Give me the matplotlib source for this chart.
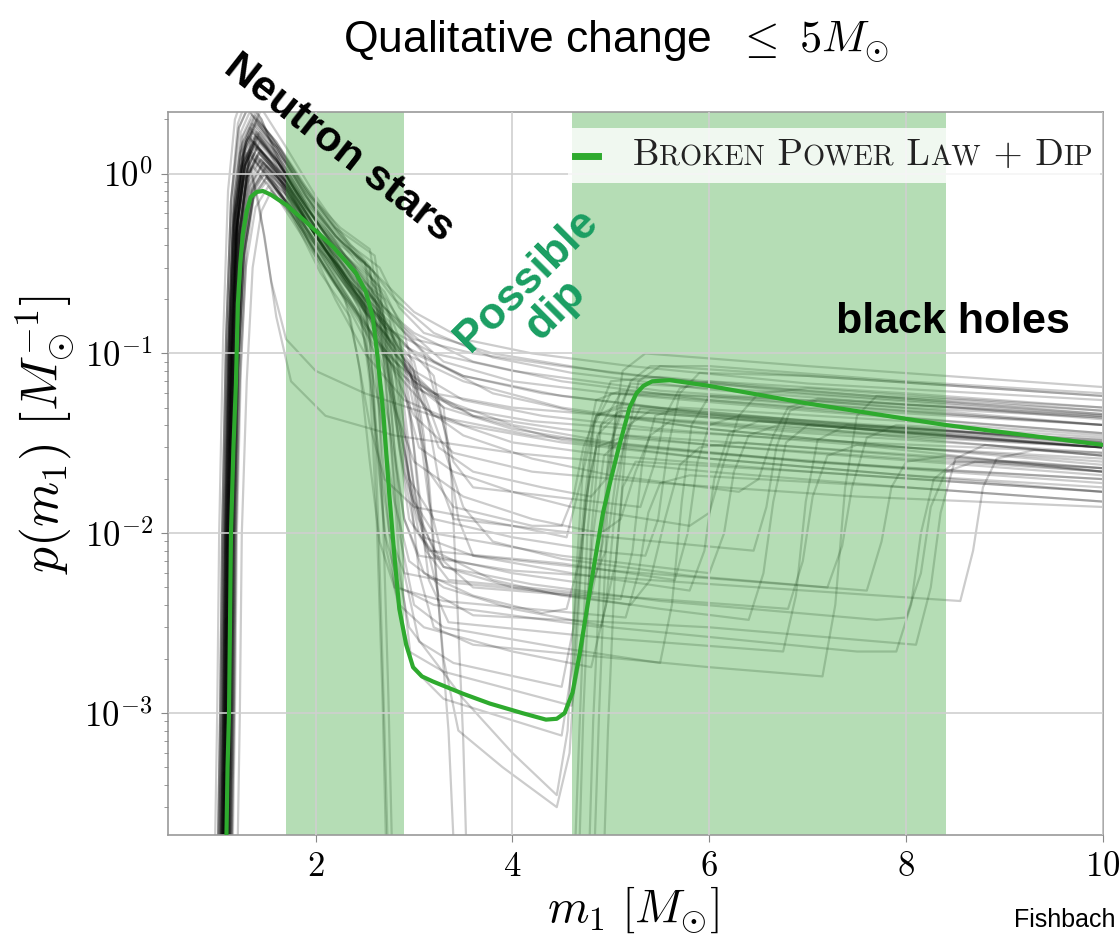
import math
import matplotlib
matplotlib.use("Agg")
import matplotlib.pyplot as plt
from matplotlib.ticker import LogLocator, FixedLocator, FuncFormatter, NullFormatter
from matplotlib.offsetbox import AnchoredOffsetbox, HPacker, TextArea, DrawingArea
from matplotlib.lines import Line2D

plt.rcParams['mathtext.fontset'] = 'cm'
plt.rcParams['font.family'] = ['Liberation Sans', 'DejaVu Sans']

# --- data ----------------------------------------------------------------
# best fit "broken power law + dip" curve (m1, p(m1))
FIT_M = [1.085, 1.105, 1.12, 1.14, 1.165, 1.19, 1.21, 1.235, 1.26, 1.30, 1.34, 1.40,
         1.465, 1.55, 1.70, 1.90, 2.18, 2.41, 2.51, 2.58, 2.63, 2.69, 2.75, 2.80,
         2.85, 2.92, 2.99, 3.08, 3.19, 3.5, 3.77, 4.1, 4.34, 4.45, 4.53, 4.61,
         4.68, 4.75, 4.84, 4.92, 5.0, 5.08, 5.19, 5.26, 5.33, 5.42, 5.6, 6.0,
         6.97, 8.4, 10.0]
FIT_P = [1e-4, 5e-4, 1e-3, 0.01, 0.03, 0.068, 0.19, 0.32, 0.46, 0.62, 0.74, 0.79,
         0.80, 0.76, 0.67, 0.54, 0.39, 0.28, 0.22, 0.16, 0.095, 0.045, 0.016, 0.0075,
         0.0038, 0.0024, 0.0018, 0.0016, 0.0015, 0.00128, 0.00113, 0.001, 0.00092, 0.00093, 0.001, 0.0013,
         0.0021, 0.0036, 0.0072, 0.013, 0.02, 0.03, 0.05, 0.06, 0.066, 0.07, 0.071, 0.066,
         0.053, 0.040, 0.031]

# posterior draws, no clear dip
SMOOTH_DRAWS = [
    [(1.03, 1e-4), (1.06, 1e-3), (1.08, 1e-2), (1.12, 0.12), (1.17, 0.6), (1.24, 1.4), (1.33, 1.8), (1.5, 1.4), (1.8, 0.7), (2.1, 0.4), (2.5, 0.22), (3.0, 0.13), (3.6, 0.09), (4.5, 0.07), (6, 0.055), (8, 0.044), (10, 0.036)],
    [(1.08, 1e-4), (1.11, 1e-3), (1.13, 1e-2), (1.17, 0.1), (1.22, 0.45), (1.3, 0.95), (1.45, 1.2), (1.65, 0.9), (1.9, 0.5), (2.2, 0.28), (2.5, 0.17), (2.9, 0.1), (3.5, 0.07), (4.5, 0.05), (6, 0.038), (8, 0.03), (10, 0.024)],
    [(1.0, 1e-4), (1.03, 1e-3), (1.05, 1e-2), (1.09, 0.12), (1.14, 0.7), (1.21, 1.9), (1.3, 2.6), (1.45, 2.0), (1.7, 0.9), (2.0, 0.45), (2.3, 0.25), (2.7, 0.14), (3.2, 0.1), (4.0, 0.08), (5.5, 0.062), (8, 0.05), (10, 0.044)],
    [(1.12, 1e-4), (1.15, 1e-3), (1.17, 1e-2), (1.21, 0.08), (1.27, 0.35), (1.36, 0.72), (1.5, 0.9), (1.7, 0.7), (2.0, 0.4), (2.3, 0.22), (2.6, 0.12), (3.0, 0.07), (3.6, 0.045), (4.5, 0.033), (6, 0.026), (8, 0.021), (10, 0.018)],
    [(1.05, 1e-4), (1.08, 1e-3), (1.10, 1e-2), (1.14, 0.1), (1.19, 0.5), (1.27, 1.1), (1.38, 1.4), (1.6, 1.0), (1.9, 0.45), (2.2, 0.2), (2.5, 0.1), (2.9, 0.055), (3.5, 0.04), (4.5, 0.032), (6, 0.026), (8, 0.021), (10, 0.017)],
    [(1.1, 1e-4), (1.13, 1e-3), (1.15, 1e-2), (1.19, 0.1), (1.24, 0.5), (1.32, 1.2), (1.42, 1.6), (1.65, 1.1), (2.0, 0.55), (2.4, 0.3), (2.7, 0.18), (3.0, 0.12), (3.6, 0.1), (4.5, 0.085), (6, 0.068), (8, 0.056), (10, 0.048)],
    [(1.06, 1e-4), (1.09, 1e-3), (1.11, 1e-2), (1.15, 0.11), (1.2, 0.6), (1.29, 1.5), (1.4, 2.0), (1.6, 1.5), (1.9, 0.8), (2.3, 0.42), (2.6, 0.25), (2.9, 0.14), (3.3, 0.09), (4.0, 0.07), (5, 0.06), (7, 0.048), (10, 0.036)],
    [(1.15, 1e-4), (1.18, 1e-3), (1.2, 1e-2), (1.24, 0.08), (1.3, 0.38), (1.38, 0.8), (1.48, 1.0), (1.7, 0.7), (2.0, 0.42), (2.4, 0.25), (2.8, 0.15), (3.2, 0.09), (3.8, 0.06), (4.6, 0.048), (6, 0.038), (8, 0.03), (10, 0.025)],
    [(1.02, 1e-4), (1.05, 1e-3), (1.07, 1e-2), (1.11, 0.1), (1.16, 0.5), (1.24, 1.05), (1.33, 1.3), (1.55, 0.9), (1.85, 0.5), (2.2, 0.3), (2.5, 0.18), (2.8, 0.08), (3.2, 0.045), (4.0, 0.032), (5, 0.027), (7, 0.022), (10, 0.017)],
    [(1.09, 1e-4), (1.12, 1e-3), (1.14, 1e-2), (1.18, 0.11), (1.23, 0.6), (1.31, 1.3), (1.4, 1.7), (1.6, 1.2), (1.9, 0.65), (2.2, 0.38), (2.55, 0.22), (2.8, 0.1), (3.2, 0.06), (4.0, 0.05), (5, 0.045), (7, 0.037), (10, 0.03)],
    [(1.04, 1e-4), (1.07, 1e-3), (1.09, 1e-2), (1.13, 0.1), (1.18, 0.45), (1.26, 0.9), (1.36, 1.1), (1.6, 0.75), (1.95, 0.38), (2.3, 0.2), (2.6, 0.11), (3.0, 0.065), (3.6, 0.045), (4.5, 0.038), (6, 0.031), (8, 0.026), (10, 0.022)],
    [(1.13, 1e-4), (1.16, 1e-3), (1.18, 1e-2), (1.22, 0.12), (1.27, 0.7), (1.35, 1.7), (1.45, 2.3), (1.7, 1.4), (2.0, 0.75), (2.35, 0.4), (2.65, 0.3), (2.85, 0.18), (3.1, 0.13), (3.8, 0.1), (5, 0.078), (7, 0.06), (10, 0.046)],
    [(1.07, 1e-4), (1.1, 1e-3), (1.12, 1e-2), (1.15, 0.1), (1.2, 0.6), (1.25, 1.1), (1.3, 1.3), (1.42, 0.7), (1.55, 0.25), (1.7, 0.12), (2.0, 0.08), (2.5, 0.06), (3.2, 0.045), (4.2, 0.035), (6, 0.028), (8, 0.023), (10, 0.02)],
    [(1.1, 1e-4), (1.13, 1e-3), (1.15, 1e-2), (1.18, 0.09), (1.23, 0.5), (1.29, 0.85), (1.35, 1.0), (1.48, 0.45), (1.6, 0.16), (1.75, 0.07), (2.1, 0.045), (2.8, 0.035), (4, 0.028), (6, 0.022), (8, 0.018), (10, 0.015)],
    [(0.97, 1e-4), (1.0, 1e-3), (1.02, 1e-2), (1.06, 0.12), (1.11, 0.8), (1.18, 2.0), (1.27, 2.8), (1.45, 2.0), (1.75, 0.85), (2.1, 0.38), (2.5, 0.19), (2.9, 0.11), (3.5, 0.075), (4.5, 0.058), (6, 0.046), (8, 0.037), (10, 0.031)],
    [(1.2, 1e-4), (1.23, 1e-3), (1.25, 1e-2), (1.3, 0.07), (1.36, 0.3), (1.45, 0.62), (1.55, 0.8), (1.8, 0.55), (2.1, 0.3), (2.4, 0.17), (2.8, 0.09), (3.3, 0.055), (4, 0.04), (5, 0.032), (7, 0.025), (10, 0.019)],
    [(1.01, 1e-4), (1.04, 1e-3), (1.06, 1e-2), (1.1, 0.11), (1.15, 0.6), (1.23, 1.3), (1.32, 1.6), (1.55, 1.15), (1.85, 0.6), (2.2, 0.32), (2.6, 0.17), (3.0, 0.1), (3.5, 0.075), (4.3, 0.06), (5.5, 0.05), (7.5, 0.04), (10, 0.033)],
    [(1.08, 1e-4), (1.11, 1e-3), (1.13, 1e-2), (1.17, 0.12), (1.22, 0.7), (1.3, 1.6), (1.38, 2.1), (1.6, 1.5), (1.9, 0.85), (2.2, 0.5), (2.5, 0.33), (2.8, 0.2), (3.2, 0.13), (3.8, 0.095), (4.6, 0.078), (6, 0.063), (8, 0.052), (10, 0.045)],
    [(1.13, 1e-4), (1.16, 1e-3), (1.18, 1e-2), (1.22, 0.09), (1.28, 0.42), (1.37, 0.9), (1.47, 1.15), (1.7, 0.8), (2.0, 0.45), (2.3, 0.26), (2.6, 0.14), (2.9, 0.075), (3.3, 0.05), (4, 0.038), (5, 0.031), (7, 0.025), (10, 0.02)],
    [(1.05, 1e-4), (1.08, 1e-3), (1.1, 1e-2), (1.14, 0.11), (1.19, 0.6), (1.27, 1.35), (1.37, 1.75), (1.6, 1.25), (1.9, 0.62), (2.25, 0.3), (2.6, 0.15), (3.0, 0.08), (3.5, 0.055), (4.3, 0.045), (5.5, 0.038), (7.5, 0.031), (10, 0.026)],
    [(1.09, 1e-4), (1.12, 1e-3), (1.14, 1e-2), (1.18, 0.1), (1.23, 0.5), (1.31, 1.1), (1.41, 1.4), (1.65, 1.0), (1.95, 0.55), (2.3, 0.3), (2.6, 0.2), (2.8, 0.12), (3.0, 0.07), (3.4, 0.05), (4.2, 0.042), (5.5, 0.037), (7.5, 0.032), (10, 0.028)],
    [(1.03, 1e-4), (1.06, 1e-3), (1.08, 1e-2), (1.12, 0.1), (1.17, 0.5), (1.25, 1.0), (1.34, 1.25), (1.55, 0.9), (1.85, 0.48), (2.2, 0.25), (2.5, 0.15), (2.75, 0.09), (3.0, 0.045), (3.4, 0.028), (4.2, 0.022), (5.5, 0.019), (7.5, 0.016), (10, 0.014)],
    [(1.07, 1e-4), (1.1, 1e-3), (1.12, 1e-2), (1.16, 0.12), (1.21, 0.65), (1.28, 1.5), (1.36, 1.9), (1.6, 1.4), (1.9, 0.8), (2.25, 0.45), (2.6, 0.28), (3.0, 0.17), (3.5, 0.12), (4.2, 0.1), (5.2, 0.085), (7, 0.068), (10, 0.055)],
]

# posterior draws with a dip between the neutron star and black hole parts
DIP_DRAWS = [
    [(1.06, 1e-4), (1.09, 1e-3), (1.11, 1e-2), (1.15, 0.1), (1.2, 0.5), (1.28, 1.1), (1.38, 1.5), (1.6, 1.0), (1.9, 0.55), (2.2, 0.35), (2.45, 0.25), (2.55, 0.12), (2.63, 0.03), (2.72, 0.008), (2.85, 0.004), (3.1, 0.003), (4.0, 0.0022), (4.8, 0.0018), (4.95, 0.004), (5.05, 0.015), (5.15, 0.035), (5.3, 0.05), (6, 0.046), (8, 0.036), (10, 0.03)],
    [(1.1, 1e-4), (1.13, 1e-3), (1.15, 1e-2), (1.19, 0.09), (1.25, 0.4), (1.33, 0.85), (1.45, 1.1), (1.7, 0.8), (2.0, 0.45), (2.4, 0.22), (2.7, 0.15), (2.8, 0.08), (2.9, 0.03), (3.0, 0.015), (3.2, 0.01), (4.5, 0.0075), (6.0, 0.006), (6.15, 0.01), (6.25, 0.022), (6.4, 0.035), (6.7, 0.04), (8, 0.034), (10, 0.027)],
    [(1.04, 1e-4), (1.07, 1e-3), (1.09, 1e-2), (1.13, 0.12), (1.18, 0.65), (1.26, 1.5), (1.35, 1.9), (1.6, 1.3), (1.9, 0.7), (2.25, 0.42), (2.55, 0.3), (2.65, 0.15), (2.75, 0.04), (2.85, 0.01), (3.0, 0.004), (3.3, 0.003), (4.5, 0.0023), (5.5, 0.0019), (5.62, 0.004), (5.72, 0.015), (5.82, 0.04), (6.0, 0.058), (7, 0.055), (8.5, 0.047), (10, 0.04)],
    [(1.12, 1e-4), (1.15, 1e-3), (1.17, 1e-2), (1.21, 0.08), (1.27, 0.35), (1.37, 0.75), (1.5, 0.95), (1.75, 0.65), (2.05, 0.33), (2.3, 0.2), (2.42, 0.1), (2.55, 0.04), (2.7, 0.02), (3.0, 0.014), (4.0, 0.011), (4.55, 0.0095), (4.7, 0.02), (4.85, 0.045), (5.1, 0.052), (7, 0.042), (10, 0.032)],
    [(1.07, 1e-4), (1.1, 1e-3), (1.12, 1e-2), (1.16, 0.1), (1.21, 0.55), (1.29, 1.2), (1.4, 1.6), (1.65, 1.1), (2.0, 0.5), (2.4, 0.22), (2.8, 0.11), (2.9, 0.05), (3.0, 0.018), (3.12, 0.008), (3.35, 0.0055), (5, 0.0045), (6.8, 0.0038), (6.95, 0.007), (7.05, 0.016), (7.2, 0.027), (7.5, 0.031), (8.5, 0.027), (10, 0.022)],
    [(1.0, 1e-4), (1.03, 1e-3), (1.05, 1e-2), (1.09, 0.12), (1.14, 0.7), (1.22, 1.8), (1.32, 2.4), (1.55, 1.6), (1.85, 0.9), (2.2, 0.5), (2.6, 0.35), (2.7, 0.15), (2.8, 0.03), (2.9, 0.006), (3.05, 0.0025), (3.4, 0.0019), (4.5, 0.0014), (4.62, 0.003), (4.72, 0.013), (4.82, 0.04), (5.0, 0.07), (5.5, 0.074), (7, 0.062), (10, 0.046)],
    [(1.09, 1e-4), (1.12, 1e-3), (1.14, 1e-2), (1.18, 0.09), (1.24, 0.45), (1.32, 1.0), (1.42, 1.3), (1.7, 0.9), (2.0, 0.5), (2.4, 0.25), (2.8, 0.13), (3.2, 0.075), (3.32, 0.035), (3.45, 0.012), (3.6, 0.0075), (5, 0.0062), (7.6, 0.0048), (7.75, 0.009), (7.85, 0.018), (8.0, 0.025), (8.4, 0.027), (10, 0.022)],
    [(1.05, 1e-4), (1.08, 1e-3), (1.1, 1e-2), (1.14, 0.11), (1.19, 0.6), (1.27, 1.35), (1.36, 1.7), (1.6, 1.2), (1.9, 0.65), (2.15, 0.42), (2.4, 0.3), (2.5, 0.15), (2.6, 0.04), (2.7, 0.01), (2.85, 0.005), (3.2, 0.004), (4.9, 0.003), (5.05, 0.007), (5.15, 0.03), (5.28, 0.07), (5.5, 0.085), (7, 0.075), (10, 0.058)],
    [(1.11, 1e-4), (1.14, 1e-3), (1.16, 1e-2), (1.2, 0.085), (1.26, 0.4), (1.35, 0.82), (1.47, 1.05), (1.75, 0.7), (2.1, 0.32), (2.5, 0.14), (2.9, 0.07), (3.0, 0.03), (3.1, 0.01), (3.25, 0.0045), (3.6, 0.0035), (6, 0.003), (8.1, 0.0024), (8.25, 0.005), (8.35, 0.013), (8.5, 0.026), (8.8, 0.031), (10, 0.027)],
    [(1.03, 1e-4), (1.06, 1e-3), (1.08, 1e-2), (1.12, 0.12), (1.17, 0.7), (1.25, 1.6), (1.35, 2.1), (1.6, 1.4), (1.9, 0.75), (2.3, 0.35), (2.65, 0.22), (2.75, 0.1), (2.85, 0.03), (2.95, 0.012), (3.15, 0.008), (4.5, 0.0068), (5.65, 0.0055), (5.78, 0.01), (5.88, 0.025), (6.0, 0.04), (6.3, 0.045), (8, 0.039), (10, 0.032)],
    [(1.08, 1e-4), (1.11, 1e-3), (1.13, 1e-2), (1.17, 0.09), (1.22, 0.45), (1.3, 0.95), (1.4, 1.25), (1.65, 0.85), (2.0, 0.4), (2.3, 0.24), (2.5, 0.18), (2.6, 0.09), (2.7, 0.02), (2.8, 0.005), (2.95, 0.0022), (3.3, 0.0017), (4.6, 0.0011), (4.72, 0.0025), (4.82, 0.01), (4.93, 0.027), (5.15, 0.035), (7, 0.03), (10, 0.023)],
    [(1.06, 1e-4), (1.09, 1e-3), (1.11, 1e-2), (1.15, 0.1), (1.2, 0.5), (1.28, 1.1), (1.38, 1.45), (1.65, 1.0), (2.0, 0.5), (2.4, 0.24), (2.75, 0.13), (3.0, 0.09), (3.12, 0.05), (3.25, 0.02), (3.4, 0.012), (5, 0.0095), (6.45, 0.008), (6.58, 0.014), (6.68, 0.03), (6.82, 0.048), (7.1, 0.055), (8.5, 0.05), (10, 0.044)],
    [(1.14, 1e-4), (1.17, 1e-3), (1.19, 1e-2), (1.23, 0.07), (1.29, 0.3), (1.39, 0.65), (1.52, 0.85), (1.75, 0.6), (2.05, 0.28), (2.35, 0.16), (2.45, 0.08), (2.55, 0.025), (2.65, 0.009), (2.8, 0.005), (3.3, 0.0042), (5.15, 0.0034), (5.28, 0.006), (5.38, 0.013), (5.5, 0.019), (5.8, 0.021), (8, 0.018), (10, 0.015)],
    [(1.02, 1e-4), (1.05, 1e-3), (1.07, 1e-2), (1.11, 0.11), (1.16, 0.55), (1.24, 1.2), (1.34, 1.55), (1.6, 1.05), (1.95, 0.5), (2.35, 0.25), (2.75, 0.15), (2.85, 0.07), (2.95, 0.02), (3.05, 0.006), (3.2, 0.003), (3.6, 0.0024), (6, 0.0018), (7.15, 0.0016), (7.28, 0.004), (7.38, 0.018), (7.5, 0.045), (7.7, 0.058), (8.6, 0.055), (10, 0.048)],
    [(1.1, 1e-4), (1.13, 1e-3), (1.15, 1e-2), (1.19, 0.09), (1.25, 0.45), (1.33, 1.0), (1.44, 1.35), (1.7, 0.95), (2.05, 0.5), (2.5, 0.25), (2.85, 0.14), (3.1, 0.1), (3.25, 0.05), (3.4, 0.025), (3.6, 0.018), (5.3, 0.014), (5.45, 0.025), (5.55, 0.045), (5.7, 0.064), (6.0, 0.07), (8, 0.06), (10, 0.05)],
    [(1.07, 1e-4), (1.1, 1e-3), (1.12, 1e-2), (1.16, 0.11), (1.21, 0.65), (1.29, 1.5), (1.4, 1.9), (1.65, 1.35), (1.95, 0.75), (2.25, 0.5), (2.55, 0.38), (2.65, 0.18), (2.75, 0.04), (2.85, 0.007), (2.98, 0.0018), (3.3, 0.0012), (4.5, 0.00075), (4.62, 0.002), (4.72, 0.01), (4.83, 0.04), (5.0, 0.06), (6, 0.058), (8, 0.048), (10, 0.04)],
    [(1.05, 1e-4), (1.08, 1e-3), (1.1, 1e-2), (1.14, 0.1), (1.19, 0.45), (1.27, 0.95), (1.37, 1.2), (1.6, 0.85), (1.95, 0.4), (2.2, 0.24), (2.45, 0.16), (2.55, 0.08), (2.65, 0.025), (2.75, 0.01), (2.9, 0.006), (3.4, 0.0053), (4.8, 0.0045), (4.92, 0.009), (5.02, 0.035), (5.12, 0.08), (5.35, 0.1), (7, 0.085), (10, 0.065)],
    [(1.12, 1e-4), (1.15, 1e-3), (1.17, 1e-2), (1.21, 0.08), (1.27, 0.37), (1.36, 0.8), (1.48, 1.0), (1.75, 0.72), (2.1, 0.38), (2.5, 0.2), (2.85, 0.12), (2.95, 0.055), (3.05, 0.015), (3.15, 0.0055), (3.35, 0.0032), (5, 0.0026), (6.75, 0.0022), (6.88, 0.0045), (6.98, 0.015), (7.1, 0.033), (7.4, 0.04), (8.5, 0.037), (10, 0.031)],
    [(1.04, 1e-4), (1.07, 1e-3), (1.09, 1e-2), (1.13, 0.11), (1.18, 0.6), (1.26, 1.25), (1.36, 1.6), (1.6, 1.15), (1.95, 0.6), (2.3, 0.35), (2.6, 0.25), (2.7, 0.12), (2.8, 0.03), (2.9, 0.012), (3.05, 0.0075), (4, 0.0062), (6.5, 0.005), (8.55, 0.0042), (8.68, 0.008), (8.78, 0.018), (8.92, 0.026), (9.3, 0.029), (10, 0.027)],
    [(1.09, 1e-4), (1.12, 1e-3), (1.14, 1e-2), (1.18, 0.1), (1.24, 0.5), (1.32, 1.1), (1.43, 1.5), (1.7, 1.0), (2.05, 0.5), (2.5, 0.2), (2.95, 0.09), (3.05, 0.04), (3.15, 0.015), (3.3, 0.007), (3.6, 0.005), (5.1, 0.0043), (5.22, 0.008), (5.32, 0.025), (5.45, 0.045), (5.7, 0.05), (8, 0.042), (10, 0.035)],
    [(1.06, 1e-4), (1.09, 1e-3), (1.11, 1e-2), (1.15, 0.1), (1.2, 0.5), (1.28, 1.1), (1.38, 1.5), (1.6, 1.05), (1.95, 0.5), (2.3, 0.25), (2.6, 0.12), (2.8, 0.05), (3.0, 0.025), (3.5, 0.016), (4.2, 0.012), (4.9, 0.01), (5.1, 0.012), (5.25, 0.022), (5.4, 0.035), (5.6, 0.042), (7, 0.036), (10, 0.028)],
    [(1.1, 1e-4), (1.13, 1e-3), (1.15, 1e-2), (1.19, 0.09), (1.25, 0.42), (1.33, 0.9), (1.44, 1.2), (1.7, 0.85), (2.0, 0.45), (2.4, 0.22), (2.7, 0.1), (2.85, 0.04), (3.0, 0.015), (3.2, 0.008), (3.8, 0.0055), (4.5, 0.0045), (5.2, 0.004), (5.4, 0.0055), (5.55, 0.012), (5.7, 0.024), (5.9, 0.03), (6.3, 0.032), (8, 0.027), (10, 0.022)],
    [(1.04, 1e-4), (1.07, 1e-3), (1.09, 1e-2), (1.13, 0.12), (1.18, 0.7), (1.26, 1.6), (1.35, 2.0), (1.6, 1.4), (1.9, 0.75), (2.3, 0.4), (2.6, 0.28), (2.75, 0.16), (2.9, 0.06), (3.05, 0.03), (3.4, 0.022), (4.0, 0.017), (4.6, 0.014), (5.8, 0.011), (6.0, 0.013), (6.15, 0.025), (6.3, 0.045), (6.5, 0.06), (7, 0.064), (8.5, 0.056), (10, 0.05)],
    [(1.12, 1e-4), (1.15, 1e-3), (1.17, 1e-2), (1.21, 0.08), (1.27, 0.35), (1.37, 0.75), (1.5, 0.95), (1.75, 0.65), (2.05, 0.35), (2.4, 0.18), (2.6, 0.1), (2.75, 0.04), (2.9, 0.012), (3.1, 0.006), (3.6, 0.0045), (4.3, 0.0036), (4.55, 0.0038), (4.68, 0.007), (4.78, 0.02), (4.9, 0.04), (5.1, 0.048), (7, 0.04), (10, 0.03)],
    [(1.08, 1e-4), (1.11, 1e-3), (1.13, 1e-2), (1.17, 0.11), (1.22, 0.6), (1.3, 1.3), (1.4, 1.65), (1.65, 1.15), (2.0, 0.55), (2.35, 0.3), (2.65, 0.18), (2.9, 0.09), (3.1, 0.05), (3.5, 0.035), (4.2, 0.026), (5, 0.021), (6.3, 0.017), (6.5, 0.02), (6.65, 0.035), (6.8, 0.05), (7.1, 0.056), (8.5, 0.05), (10, 0.043)],
    [(1.02, 1e-4), (1.05, 1e-3), (1.07, 1e-2), (1.11, 0.1), (1.16, 0.5), (1.24, 1.1), (1.33, 1.35), (1.55, 0.95), (1.9, 0.45), (2.25, 0.22), (2.5, 0.12), (2.65, 0.05), (2.8, 0.015), (2.95, 0.007), (3.3, 0.005), (4.0, 0.0038), (5.0, 0.003), (7.5, 0.0022), (7.9, 0.0022), (8.05, 0.004), (8.15, 0.01), (8.28, 0.02), (8.5, 0.025), (9.2, 0.025), (10, 0.023)],
    [(1.14, 1e-4), (1.17, 1e-3), (1.19, 1e-2), (1.23, 0.09), (1.29, 0.4), (1.38, 0.85), (1.5, 1.1), (1.75, 0.8), (2.1, 0.42), (2.45, 0.26), (2.7, 0.2), (2.85, 0.12), (3.0, 0.05), (3.15, 0.022), (3.4, 0.014), (4.2, 0.011), (4.5, 0.011), (4.62, 0.016), (4.72, 0.03), (4.85, 0.045), (5.1, 0.05), (7, 0.041), (10, 0.033)],
    [(1.05, 1e-4), (1.08, 1e-3), (1.1, 1e-2), (1.14, 0.11), (1.19, 0.6), (1.27, 1.4), (1.36, 1.8), (1.6, 1.3), (1.9, 0.7), (2.25, 0.38), (2.55, 0.24), (2.75, 0.12), (2.9, 0.04), (3.05, 0.012), (3.3, 0.0065), (4.0, 0.005), (5.5, 0.0038), (6.4, 0.0033), (6.55, 0.006), (6.65, 0.015), (6.78, 0.032), (7.0, 0.04), (8.5, 0.035), (10, 0.03)],
    [(1.09, 1e-4), (1.12, 1e-3), (1.14, 1e-2), (1.18, 0.09), (1.24, 0.45), (1.32, 1.0), (1.42, 1.3), (1.7, 0.9), (2.05, 0.45), (2.45, 0.2), (2.8, 0.1), (3.1, 0.06), (3.3, 0.03), (3.5, 0.014), (3.8, 0.009), (4.5, 0.0072), (5.8, 0.0058), (7.2, 0.005), (7.35, 0.0085), (7.45, 0.018), (7.6, 0.034), (7.9, 0.04), (9, 0.037), (10, 0.034)],
    [(1.07, 1e-4), (1.1, 1e-3), (1.12, 1e-2), (1.16, 0.1), (1.21, 0.55), (1.29, 1.2), (1.39, 1.6), (1.65, 1.1), (2.0, 0.55), (2.35, 0.3), (2.6, 0.2), (2.72, 0.1), (2.85, 0.03), (3.0, 0.011), (3.2, 0.0075), (4.0, 0.006), (4.8, 0.0052), (4.95, 0.008), (5.05, 0.02), (5.18, 0.04), (5.4, 0.048), (7, 0.04), (10, 0.03)],
    [(1.11, 1e-4), (1.14, 1e-3), (1.16, 1e-2), (1.2, 0.085), (1.26, 0.38), (1.35, 0.8), (1.46, 1.0), (1.7, 0.72), (2.0, 0.42), (2.35, 0.22), (2.6, 0.15), (2.75, 0.07), (2.9, 0.022), (3.1, 0.0095), (3.6, 0.0075), (4.6, 0.006), (5.8, 0.0048), (5.95, 0.008), (6.05, 0.02), (6.2, 0.036), (6.5, 0.042), (8, 0.036), (10, 0.03)],
    [(1.03, 1e-4), (1.06, 1e-3), (1.08, 1e-2), (1.12, 0.13), (1.17, 0.8), (1.24, 1.7), (1.33, 2.2), (1.55, 1.6), (1.85, 0.85), (2.2, 0.45), (2.5, 0.32), (2.65, 0.2), (2.8, 0.06), (2.95, 0.02), (3.2, 0.012), (4.0, 0.0095), (5.0, 0.0078), (5.35, 0.0075), (5.48, 0.012), (5.58, 0.03), (5.7, 0.06), (5.9, 0.078), (7, 0.075), (10, 0.058)],
    [(1.06, 1e-4), (1.09, 1e-3), (1.11, 1e-2), (1.15, 0.1), (1.2, 0.5), (1.28, 1.1), (1.37, 1.45), (1.6, 1.0), (1.95, 0.5), (2.3, 0.26), (2.6, 0.16), (2.75, 0.08), (2.9, 0.025), (3.05, 0.01), (3.3, 0.0065), (4.2, 0.0052), (5.5, 0.0042), (7.7, 0.0033), (8.0, 0.0034), (8.15, 0.006), (8.25, 0.014), (8.4, 0.022), (8.7, 0.025), (10, 0.023)],
    [(1.1, 1e-4), (1.13, 1e-3), (1.15, 1e-2), (1.19, 0.11), (1.25, 0.6), (1.33, 1.3), (1.43, 1.7), (1.7, 1.15), (2.0, 0.62), (2.4, 0.33), (2.7, 0.22), (2.9, 0.13), (3.05, 0.06), (3.25, 0.03), (3.6, 0.022), (4.3, 0.018), (4.8, 0.016), (4.95, 0.02), (5.05, 0.04), (5.2, 0.07), (5.4, 0.085), (6, 0.085), (8, 0.07), (10, 0.06)],
]

# posterior draws whose dip falls below the plotted range
DEEP_DRAWS = [
    [(1.06, 1e-4), (1.09, 1e-3), (1.11, 1e-2), (1.15, 0.1), (1.2, 0.5), (1.28, 1.0), (1.38, 1.3), (1.65, 0.9), (2.0, 0.45), (2.3, 0.27), (2.5, 0.2), (2.58, 0.08), (2.64, 0.01), (2.7, 0.0008), (2.76, 5e-5), (4.6, 5e-5), (4.68, 0.0008), (4.76, 0.01), (4.86, 0.035), (5.05, 0.045), (7, 0.038), (10, 0.03)],
    [(1.04, 1e-4), (1.07, 1e-3), (1.09, 1e-2), (1.13, 0.11), (1.18, 0.6), (1.26, 1.3), (1.35, 1.7), (1.6, 1.2), (1.9, 0.65), (2.25, 0.4), (2.55, 0.3), (2.62, 0.12), (2.68, 0.015), (2.74, 0.0012), (2.8, 5e-5), (4.8, 5e-5), (4.88, 0.001), (4.96, 0.012), (5.05, 0.045), (5.2, 0.068), (6.5, 0.062), (10, 0.045)],
    [(1.11, 1e-4), (1.14, 1e-3), (1.16, 1e-2), (1.2, 0.09), (1.26, 0.42), (1.35, 0.9), (1.46, 1.15), (1.75, 0.78), (2.1, 0.36), (2.55, 0.16), (3.0, 0.08), (3.1, 0.035), (3.2, 0.008), (3.3, 0.002), (3.45, 0.0008), (3.9, 0.0005), (4.45, 0.0003), (4.58, 0.0006), (4.66, 0.003), (4.74, 0.015), (4.85, 0.03), (5.1, 0.034), (7, 0.028), (10, 0.021)],
    [(1.08, 1e-4), (1.11, 1e-3), (1.13, 1e-2), (1.17, 0.1), (1.22, 0.5), (1.3, 1.05), (1.4, 1.4), (1.7, 0.9), (2.05, 0.42), (2.5, 0.17), (2.9, 0.085), (3.3, 0.05), (3.38, 0.02), (3.44, 0.004), (3.5, 0.0007), (3.56, 5e-5), (4.9, 5e-5), (4.97, 0.0008), (5.04, 0.006), (5.12, 0.018), (5.25, 0.025), (7, 0.022), (10, 0.017)],
    [(1.0, 1e-4), (1.03, 1e-3), (1.05, 1e-2), (1.09, 0.12), (1.14, 0.7), (1.22, 1.8), (1.31, 2.3), (1.55, 1.5), (1.85, 0.8), (2.2, 0.45), (2.5, 0.32), (2.6, 0.14), (2.7, 0.03), (2.8, 0.008), (2.95, 0.003), (3.5, 0.0012), (4.0, 0.0006), (4.45, 0.00035), (4.56, 0.0008), (4.64, 0.005), (4.72, 0.025), (4.85, 0.055), (5.1, 0.062), (7, 0.052), (10, 0.04)],
    [(1.08, 1e-4), (1.11, 1e-3), (1.13, 1e-2), (1.17, 0.09), (1.22, 0.45), (1.3, 0.95), (1.41, 1.2), (1.65, 0.85), (2.0, 0.42), (2.3, 0.24), (2.45, 0.18), (2.55, 0.07), (2.62, 0.012), (2.68, 0.0012), (2.74, 5e-5), (4.75, 5e-5), (4.82, 0.0009), (4.9, 0.008), (4.98, 0.03), (5.12, 0.048), (6.5, 0.042), (10, 0.032)],
    [(1.05, 1e-4), (1.08, 1e-3), (1.1, 1e-2), (1.14, 0.1), (1.19, 0.55), (1.27, 1.2), (1.37, 1.5), (1.6, 1.1), (1.95, 0.5), (2.3, 0.26), (2.7, 0.13), (3.0, 0.07), (3.15, 0.02), (3.25, 0.004), (3.35, 0.0008), (3.45, 5e-5), (4.65, 5e-5), (4.72, 0.001), (4.8, 0.01), (4.9, 0.04), (5.1, 0.06), (7, 0.05), (10, 0.04)],
]

BANDS = [(1.7, 2.9), (4.6, 8.4)]
X_TICKS = [2, 4, 6, 8, 10]

FIT_COLOR = '#2eaa2e'
DIP_TEXT_COLOR = '#1a9e62'

W, H = 1120, 943


def fig_xy(px, py):
    return px / W, 1 - py / H


fig = plt.figure(figsize=(W / 100, H / 100), dpi=100)
ax = fig.add_axes([168 / W, 1 - 835 / H, (1103 - 168) / W, (835 - 112) / H])

for draw in SMOOTH_DRAWS + DIP_DRAWS + DEEP_DRAWS:
    xs, ys = zip(*draw)
    ax.plot(xs, ys, color='k', alpha=0.2, lw=1.6, zorder=1)

for lo, hi in BANDS:
    ax.axvspan(lo, hi, color='#2ca02c', alpha=0.35, lw=0, zorder=2)

ax.plot(FIT_M, FIT_P, color=FIT_COLOR, lw=3, zorder=4)

ax.set_yscale('log')
ax.set_xlim(0.5, 10)
ax.set_ylim(2.1e-4, 2.2)

ax.xaxis.set_major_locator(FixedLocator(X_TICKS))
ax.xaxis.set_major_formatter(FuncFormatter(lambda v, p: r'$%d$' % v))
ax.yaxis.set_major_locator(LogLocator(base=10, numticks=10))
ax.yaxis.set_major_formatter(FuncFormatter(lambda v, p: r'$10^{%d}$' % round(math.log10(v))))
ax.yaxis.set_minor_locator(LogLocator(base=10, subs=range(2, 10), numticks=20))
ax.yaxis.set_minor_formatter(NullFormatter())
ax.tick_params(axis='both', which='major', labelsize=25, length=5, color='#888888', pad=6)
ax.tick_params(axis='y', which='minor', length=3, color='#888888')
ax.grid(True, which='major', color='#cfcfcf', lw=1.2, zorder=3)
ax.set_axisbelow(False)
for sp in ax.spines.values():
    sp.set_color('#9a9a9a')
    sp.set_linewidth(1.2)

# legend with small caps label
handle = DrawingArea(16, 30, 0, 0)
handle.add_artist(Line2D([0, 16], [15, 15], color=FIT_COLOR, lw=5))
pieces = [("B", 27), ("ROKEN", 20.5), (" P", 27), ("OWER", 20.5), (" L", 27), ("AW", 20.5),
          (" + D", 27), ("IP", 20.5)]
label = HPacker(children=[TextArea(s, textprops=dict(fontsize=sz, family='cmr10', color='#222222'))
                          for s, sz in pieces], align='baseline', pad=0, sep=0)
box = AnchoredOffsetbox(loc='upper right', child=HPacker(children=[handle, label], align='center', pad=0, sep=25),
                        pad=0.25, borderpad=0, frameon=True, bbox_to_anchor=(0.997, 0.978),
                        bbox_transform=ax.transAxes, prop=dict(size=20))
box.patch.set_facecolor('white')
box.patch.set_alpha(0.8)
box.patch.set_edgecolor('none')
box.set_zorder(5)
ax.add_artist(box)

# labels and annotations
fig.text(*fig_xy(45, 435), r'$p(m_1)\ [M_{\odot}^{-1}]$', fontsize=37, rotation=90,
         ha='center', va='center')
fig.text(*fig_xy(633, 910), r'$m_1\ [M_{\odot}]$', fontsize=34, ha='center', va='center')
fig.text(*fig_xy(616, 42), r'Qualitative change  $\leq\ 5M_{\odot}$', fontsize=32,
         ha='center', va='center')
fig.text(*fig_xy(339, 148), 'Neutron stars', fontsize=31, fontweight='bold', rotation=-38,
         ha='center', va='center', rotation_mode='anchor')
fig.text(*fig_xy(541, 295), 'Possible\ndip', fontsize=32, fontweight='bold', rotation=45,
         color=DIP_TEXT_COLOR, ha='center', va='center', multialignment='center',
         linespacing=1.0, rotation_mode='anchor')
fig.text(*fig_xy(953, 322), 'black holes', fontsize=31, fontweight='bold',
         ha='center', va='center')
fig.text(*fig_xy(1116, 920), 'Fishbach', fontsize=18, ha='right', va='center')

fig.savefig('out.png', dpi=100)
